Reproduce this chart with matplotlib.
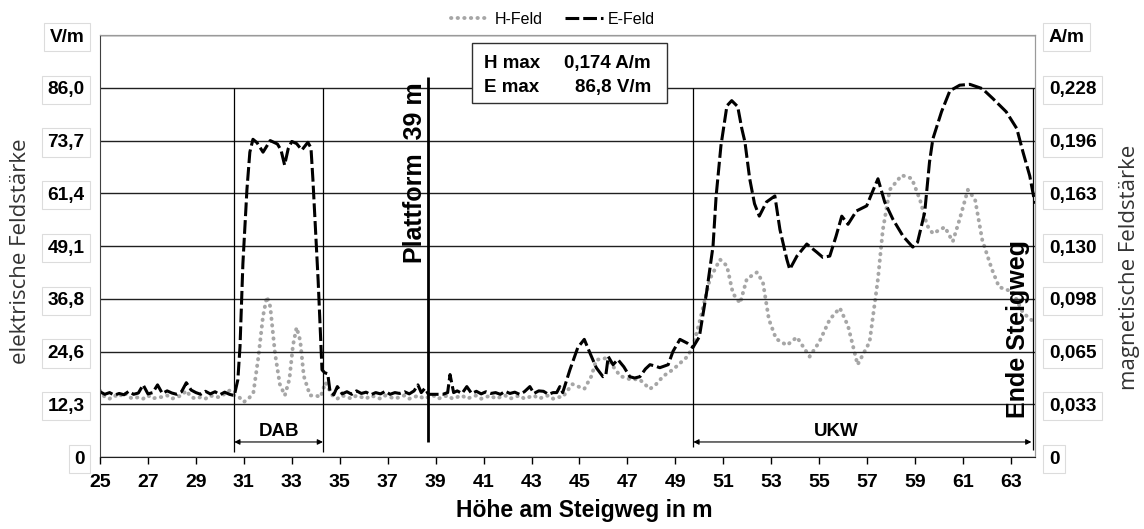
import matplotlib
matplotlib.use("Agg")
import matplotlib.pyplot as plt

# E-Feld (V/m) ueber Hoehe am Steigweg (m)
e_height = [25.0, 25.2, 25.4, 25.6, 25.8, 26.0, 26.2, 26.4, 26.6, 26.8, 27.0, 27.2, 27.4, 27.6, 27.8,
            28.0, 28.2, 28.4, 28.6, 28.8, 29.0, 29.2, 29.4, 29.6, 29.8, 30.0, 30.2, 30.4, 30.6,
            30.75, 30.84, 30.96, 31.13, 31.25, 31.38, 31.55, 31.8, 32.1, 32.4, 32.55, 32.7, 32.85,
            33.0, 33.2, 33.42, 33.67, 33.8, 33.88, 34.0, 34.1, 34.26, 34.38, 34.5, 34.6, 34.75,
            34.9, 35.1, 35.3, 35.5, 35.7, 35.9, 36.1, 36.3, 36.5, 36.7, 36.9, 37.1, 37.3, 37.5,
            37.7, 37.9, 38.1, 38.26, 38.4, 38.55, 38.7, 38.9, 39.1, 39.3, 39.5, 39.6, 39.75, 39.9,
            40.1, 40.3, 40.5, 40.7, 40.9, 41.1, 41.3, 41.5, 41.7, 41.9, 42.1, 42.3, 42.5, 42.7,
            42.93, 43.1, 43.3, 43.5, 43.7, 43.9, 44.05, 44.18, 44.3, 44.6, 44.93, 45.2, 45.43,
            45.7, 45.98, 46.1, 46.2, 46.4, 46.6, 46.85, 47.1, 47.3, 47.52, 47.75, 47.94, 48.15,
            48.35, 48.7, 48.9, 49.19, 49.5, 49.73, 50.0, 50.3, 50.57, 50.7, 50.9, 51.15, 51.35,
            51.6, 51.77, 51.9, 52.1, 52.3, 52.5, 52.8, 53.15, 53.36, 53.65, 53.77, 54.07, 54.48,
            54.9, 55.15, 55.44, 55.7, 55.94, 56.2, 56.55, 56.98, 57.2, 57.45, 57.73, 58.07, 58.5,
            58.9, 59.1, 59.4, 59.6, 59.74, 60.1, 60.45, 60.86, 61.28, 61.8, 62.24, 62.8, 63.24,
            63.5, 63.78, 64.0]
e_field = [15.2, 14.6, 15.0, 14.4, 14.8, 14.5, 15.3, 14.6, 14.9, 16.8, 14.7, 15.0, 16.8, 14.8, 15.4,
           14.9, 14.6, 15.2, 17.3, 15.6, 15.0, 14.6, 15.3, 14.7, 15.2, 14.5, 15.1, 14.6, 14.3,
           18.0, 25.7, 45.0, 62.4, 71.0, 74.0, 73.2, 71.0, 73.7, 72.9, 71.5, 68.0, 71.8,
           73.5, 73.0, 71.5, 73.3, 72.0, 64.7, 52.0, 41.0, 20.3, 19.6, 19.4, 15.0, 14.5,
           16.4, 14.7, 15.2, 14.6, 15.4, 14.8, 15.1, 14.5, 15.0, 14.7, 15.3, 14.6, 15.0, 14.8,
           15.2, 14.7, 15.4, 16.8, 15.0, 16.0, 14.6, 14.6, 14.6, 14.6, 15.0, 19.2, 15.0, 15.4,
           14.8, 16.4, 14.8, 15.3, 14.7, 15.2, 14.8, 15.0, 14.6, 15.3, 14.8, 15.1, 14.6, 15.2,
           16.4, 14.8, 15.4, 15.3, 14.6, 15.0, 15.0, 16.4, 15.0, 20.3, 25.5, 27.4, 24.3,
           20.8, 18.7, 19.1, 23.4, 21.5, 22.7, 21.0, 18.7, 18.4, 18.7, 20.5, 21.5, 21.2,
           20.8, 21.5, 24.6, 27.4, 26.5, 25.5, 28.0, 38.3, 49.1, 60.8, 72.5, 81.8, 83.0,
           81.6, 76.5, 73.4, 64.8, 59.0, 56.1, 59.4, 60.8, 53.0, 46.0, 43.7, 46.8, 49.6,
           47.7, 46.5, 46.8, 51.4, 56.1, 54.2, 57.3, 58.5, 61.5, 64.8, 59.4, 55.4, 51.4,
           48.9, 50.0, 57.0, 68.7, 74.1, 80.4, 85.3, 86.6, 86.8, 85.8, 83.5, 80.4, 76.5,
           71.0, 65.5, 59.0]

# H-Feld (A/m) ueber Hoehe am Steigweg (m)
h_height = [25.0, 25.2, 25.4, 25.6, 25.8, 26.0, 26.2, 26.4, 26.6, 26.8, 27.0, 27.2, 27.4, 27.6, 27.8,
            28.0, 28.2, 28.4, 28.6, 28.8, 29.0, 29.2, 29.4, 29.6, 29.8, 30.0, 30.2, 30.4, 30.6,
            30.8, 31.0, 31.2, 31.4, 31.6, 31.8, 31.96, 32.1, 32.3, 32.5, 32.71, 32.9, 33.05, 33.2,
            33.35, 33.5, 33.76, 34.0, 34.2, 34.4, 34.55, 34.7, 34.9, 35.1, 35.3, 35.5, 35.7, 35.9,
            36.1, 36.3, 36.5, 36.7, 36.9, 37.1, 37.3, 37.5, 37.7, 37.9, 38.1, 38.3, 38.5, 38.7,
            38.9, 39.1, 39.3, 39.5, 39.7, 39.9, 40.1, 40.3, 40.5, 40.7, 40.9, 41.1, 41.3, 41.5,
            41.7, 41.9, 42.1, 42.3, 42.5, 42.7, 42.9, 43.1, 43.3, 43.5, 43.7, 43.9, 44.1, 44.3,
            44.7, 45.2, 45.5, 45.7, 46.1, 46.4, 46.7, 47.1, 47.5, 47.94, 48.2, 48.5, 48.9, 49.2,
            49.5, 49.73, 50.0, 50.44, 50.86, 51.15, 51.4, 51.7, 51.98, 52.4, 52.65, 52.9, 53.2,
            53.65, 54.07, 54.6, 55.0, 55.44, 55.86, 56.2, 56.6, 57.1, 57.45, 57.65, 57.94, 58.44,
            58.86, 59.2, 59.5, 59.74, 60.24, 60.57, 60.86, 61.2, 61.5, 61.8, 62.2, 62.5, 63.07,
            63.5, 63.9]
h_field = [0.041, 0.037, 0.036, 0.038, 0.037, 0.040, 0.037, 0.036, 0.037, 0.036, 0.038, 0.036, 0.037,
           0.037, 0.038, 0.036, 0.037, 0.038, 0.041, 0.037, 0.036, 0.037, 0.036, 0.038, 0.037, 0.037,
           0.039, 0.041, 0.038, 0.037, 0.034, 0.036, 0.040, 0.061, 0.087, 0.099, 0.093, 0.064, 0.045,
           0.038, 0.048, 0.069, 0.080, 0.072, 0.050, 0.038, 0.038, 0.037, 0.046, 0.042, 0.038, 0.036,
           0.038, 0.037, 0.036, 0.038, 0.037, 0.036, 0.038, 0.037, 0.036, 0.038, 0.037, 0.036, 0.037,
           0.038, 0.036, 0.037, 0.038, 0.036, 0.037, 0.038, 0.036, 0.037, 0.038, 0.036, 0.037, 0.038,
           0.036, 0.037, 0.038, 0.036, 0.037, 0.038, 0.036, 0.037, 0.038, 0.036, 0.037, 0.038, 0.036,
           0.037, 0.038, 0.036, 0.037, 0.038, 0.036, 0.037, 0.037, 0.045, 0.042, 0.050, 0.060, 0.061,
           0.056, 0.050, 0.048, 0.048, 0.042, 0.045, 0.050, 0.054, 0.058, 0.062, 0.068, 0.083, 0.110,
           0.122, 0.118, 0.101, 0.095, 0.110, 0.114, 0.108, 0.085, 0.073, 0.069, 0.074, 0.062, 0.071,
           0.085, 0.092, 0.081, 0.057, 0.071, 0.110, 0.140, 0.165, 0.174, 0.172, 0.159, 0.143, 0.138,
           0.142, 0.133, 0.147, 0.165, 0.159, 0.134, 0.116, 0.105, 0.102, 0.089, 0.084]

x_ticks = list(range(25, 64, 2))
e_ticks = [0, 12.29, 24.57, 36.86, 49.14, 61.43, 73.71, 86.0, 98.29]
e_labels = ['0', '12,3', '24,6', '36,8', '49,1', '61,4', '73,7', '86,0', 'V/m']
h_ticks = [0, 0.0326, 0.0651, 0.0977, 0.1303, 0.1629, 0.1954, 0.228, 0.2606]
h_labels = ['0', '0,033', '0,065', '0,098', '0,130', '0,163', '0,196', '0,228', 'A/m']

plt.rcParams['font.family'] = ['Liberation Sans', 'DejaVu Sans']

W, H = 1144, 529
fig = plt.figure(figsize=(W / 100, H / 100), dpi=100)
ax = fig.add_axes([100 / W, 72 / H, 935 / W, 422 / H])
ax2 = ax.twinx()

ax.set_xlim(25, 64)
ax.set_ylim(0, 98.29)
ax2.set_ylim(0, 0.2606)

ax.grid(axis='y', color='#202020', lw=1.0)
ax.set_axisbelow(True)

h_line, = ax2.plot(h_height, h_field, color='#a6a6a6', lw=2.8, ls=(0, (0.1, 1.6)),
                   dash_capstyle='round', label='H-Feld')
e_line, = ax.plot(e_height, e_field, color='black', lw=2.2, ls=(0, (4.5, 1.3)), label='E-Feld')
ax.set_zorder(ax2.get_zorder() + 1)
ax.patch.set_visible(False)

ax.set_xticks(x_ticks)
ax.set_xticklabels([str(t) for t in x_ticks], fontsize=14, fontweight='bold')
ax.tick_params(axis='x', direction='out', length=5, width=1, pad=7)
ax.set_yticks(e_ticks)
ax.set_yticklabels(e_labels, fontsize=13.7, fontweight='bold')
ax.tick_params(axis='y', length=0, pad=11)
ax2.set_yticks(h_ticks)
ax2.set_yticklabels(h_labels, fontsize=13.7, fontweight='bold')
ax2.tick_params(axis='y', length=0, pad=10)
for lab in ax.get_yticklabels() + ax2.get_yticklabels():
    lab.set_bbox(dict(boxstyle='square,pad=0.3', fc='white', ec='#dcdcdc', lw=0.8))

for side in ['top', 'right']:
    ax.spines[side].set_color('#9a9a9a')
    ax2.spines[side].set_color('#9a9a9a')
ax.spines['left'].set_color('#404040')
ax.spines['bottom'].set_color('#202020')
ax2.spines['left'].set_visible(False)
ax2.spines['bottom'].set_visible(False)

fig.text(584 / W, 1 - 510 / H, 'Höhe am Steigweg in m', ha='center', va='center',
         fontsize=16.5, fontweight='bold')
fig.text(21 / W, 1 - 251 / H, 'elektrische Feldstärke', rotation=90, ha='center', va='center',
         fontsize=16, family='Open Sans', color='#333333')
fig.text(1129 / W, 1 - 267 / H, 'magnetische Feldstärke', rotation=90, ha='center', va='center',
         fontsize=16, family='Open Sans', color='#333333')

# Markierungen
ax.vlines([30.6, 34.3], 1.2, 86.0, color='black', lw=0.9)
ax.vlines(49.75, 2.3, 86.0, color='black', lw=0.9)
ax.vlines(63.9, 1.6, 86.0, color='black', lw=0.9)
ax.vlines(38.7, 3.6, 88.6, color='black', lw=2.0)
ax.annotate('', xy=(30.6, 3.5), xytext=(34.3, 3.5),
            arrowprops=dict(arrowstyle='<|-|>', lw=0.8, color='black', mutation_scale=8, shrinkA=0, shrinkB=0))
ax.annotate('', xy=(49.75, 3.5), xytext=(63.85, 3.5),
            arrowprops=dict(arrowstyle='<|-|>', lw=0.8, color='black', mutation_scale=8, shrinkA=0, shrinkB=0))
ax.text(32.45, 6.0, 'DAB', ha='center', va='center', fontsize=13.5, fontweight='bold')
ax.text(55.7, 6.0, 'UKW', ha='center', va='center', fontsize=13.5, fontweight='bold')
ax.text(38.14, 66.2, 'Plattform  39 m', rotation=90, ha='center', va='center', fontsize=18, fontweight='bold')
ax.text(63.28, 29.7, 'Ende Steigweg', rotation=90, ha='center', va='center', fontsize=18, fontweight='bold')

# Maximalwerte-Box
box = plt.Rectangle((372 / 935, 354 / 422), 195 / 935, 60 / 422, transform=ax.transAxes,
                    fc='white', ec='#303030', lw=1.0, zorder=4)
ax.add_patch(box)
box_rows = [('H max', '0,174 A/m', 63), ('E max', '86,8 V/m', 87)]
for name, val, ypix in box_rows:
    yf = (457 - ypix) / 422
    ax.text(384 / 935, yf, name, transform=ax.transAxes, ha='left', va='center',
            fontsize=13.5, fontweight='bold', zorder=5)
    ax.text(551 / 935, yf, val, transform=ax.transAxes, ha='right', va='center',
            fontsize=13.5, fontweight='bold', zorder=5)

fig.legend([h_line, e_line], ['H-Feld', 'E-Feld'], loc='center', bbox_to_anchor=(553 / W, 1 - 19 / H),
           ncol=2, frameon=False, fontsize=11.5, handlelength=2.4, columnspacing=1.4, handletextpad=0.3)

fig.savefig('out.png', dpi=100)
